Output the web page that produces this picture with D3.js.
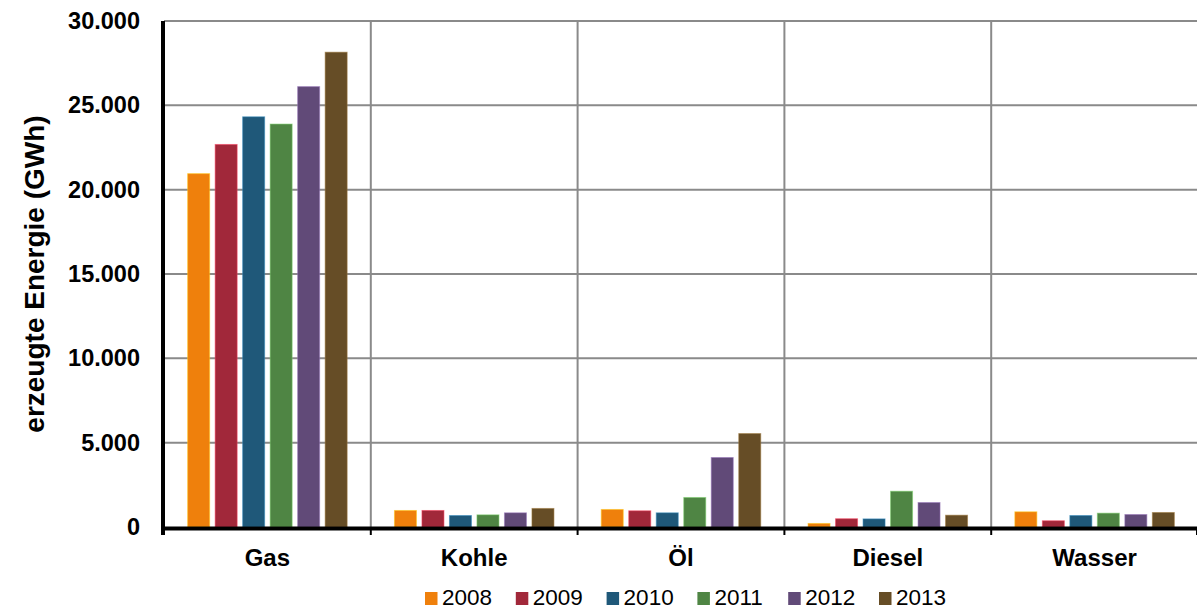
<!DOCTYPE html>
<html>
<head>
<meta charset="utf-8">
<script src="https://cdn.jsdelivr.net/npm/d3@7"></script>
<style>
  html, body { margin: 0; padding: 0; background: #fff; }
  svg { display: block; font-family: "Liberation Sans", Arial, sans-serif; }
</style>
</head>
<body>
<svg id="chart" width="1197" height="610"></svg>
<script>
// Energieträger und Jahre
const categories = ["Gas", "Kohle", "Öl", "Diesel", "Wasser"];
const years = ["2008", "2009", "2010", "2011", "2012", "2013"];

// erzeugte Energie in GWh je Jahr, Reihenfolge wie categories
const values2008 = [20950, 980, 1040, 210, 900];
const values2009 = [22680, 980, 960, 490, 370];
const values2010 = [24320, 680, 840, 480, 680];
const values2011 = [23890, 720, 1750, 2120, 820];
const values2012 = [26110, 840, 4120, 1450, 740];
const values2013 = [28150, 1100, 5540, 700, 860];

const seriesValues = [values2008, values2009, values2010, values2011, values2012, values2013];
const seriesColors = ["#EF800C", "#A1283A", "#1F5879", "#4F8544", "#614A78", "#664D26"];

const yTicks = [0, 5000, 10000, 15000, 20000, 25000, 30000];
const yLabel = "erzeugte Energie (GWh)";

const de = d3.formatLocale({ decimal: ",", thousands: ".", grouping: [3], currency: ["", " €"] });
const fmt = de.format(",d");

const svg = d3.select("#chart");
const plotLeft = 164, plotRight = 1198, plotTop = 21, plotBottom = 527;

const x0 = d3.scaleBand().domain(categories).range([plotLeft, plotRight]).paddingInner(0).paddingOuter(0);
const x1 = d3.scaleBand().domain(years).range([0, x0.bandwidth()]).paddingInner(0.2).paddingOuter(0.86);
const y = d3.scaleLinear().domain([0, 30000]).range([plotBottom, plotTop]);

const boundaries = categories.slice(1).map(c => x0(c)).concat([plotRight]);

// horizontale Gitterlinien
svg.append("g")
  .selectAll("line")
  .data(yTicks.filter(d => d > 0))
  .join("line")
  .attr("x1", plotLeft).attr("x2", plotRight)
  .attr("y1", d => y(d)).attr("y2", d => y(d))
  .attr("stroke", "#8a8a8a").attr("stroke-width", 2);

// vertikale Gitterlinien zwischen den Kategorien
svg.append("g")
  .selectAll("line")
  .data(boundaries)
  .join("line")
  .attr("x1", d => d).attr("x2", d => d)
  .attr("y1", plotTop).attr("y2", plotBottom)
  .attr("stroke", "#8a8a8a").attr("stroke-width", 2);

// Balken
const rows = [];
categories.forEach((c, ci) => {
  years.forEach((yr, yi) => rows.push({ cat: c, year: yr, value: seriesValues[yi][ci], color: seriesColors[yi] }));
});

svg.append("g")
  .selectAll("rect")
  .data(rows)
  .join("rect")
  .attr("x", d => x0(d.cat) + x1(d.year))
  .attr("y", d => y(d.value))
  .attr("width", x1.bandwidth())
  .attr("height", d => y(0) - y(d.value))
  .attr("fill", d => d.color)
  .attr("stroke", d => d3.color(d.color).brighter(1.2).formatHex())
  .attr("stroke-opacity", 0.55)
  .attr("stroke-width", 1);

// y-Achse
const yAxis = svg.append("g")
  .attr("transform", `translate(${plotLeft - 1},0)`)
  .call(d3.axisLeft(y).tickValues(yTicks).tickFormat(fmt).tickSize(0).tickPadding(23));
yAxis.select(".domain").remove();
yAxis.selectAll("text")
  .attr("font-size", 23.5).attr("font-weight", "bold").attr("fill", "#000")
  .attr("font-family", "'Liberation Sans', Arial, sans-serif");

svg.append("line")
  .attr("x1", plotLeft - 1).attr("x2", plotLeft - 1)
  .attr("y1", plotTop).attr("y2", plotBottom + 8)
  .attr("stroke", "#000").attr("stroke-width", 4);

// x-Achse
svg.append("line")
  .attr("x1", plotLeft - 3).attr("x2", plotRight)
  .attr("y1", plotBottom + 1.5).attr("y2", plotBottom + 1.5)
  .attr("stroke", "#000").attr("stroke-width", 4);

svg.append("g")
  .selectAll("line")
  .data(boundaries)
  .join("line")
  .attr("x1", d => Math.min(d, plotRight - 1)).attr("x2", d => Math.min(d, plotRight - 1))
  .attr("y1", plotBottom).attr("y2", plotBottom + 8)
  .attr("stroke", "#000").attr("stroke-width", 2);

svg.append("g")
  .selectAll("text")
  .data(categories)
  .join("text")
  .attr("x", d => x0(d) + x0.bandwidth() / 2)
  .attr("y", 566)
  .attr("text-anchor", "middle")
  .attr("font-size", 24).attr("font-weight", "bold")
  .text(d => d);

// Achsentitel
svg.append("text")
  .attr("transform", `translate(44,274) rotate(-90)`)
  .attr("text-anchor", "middle")
  .attr("font-size", 28).attr("font-weight", "bold")
  .text(yLabel);

// Legende
const legend = svg.append("g")
  .selectAll("g")
  .data(years)
  .join("g")
  .attr("transform", (d, i) => `translate(${425 + i * 90.8},0)`);
legend.append("rect")
  .attr("x", 0).attr("y", 592)
  .attr("width", 12.5).attr("height", 13)
  .attr("fill", (d, i) => seriesColors[i]);
legend.append("text")
  .attr("x", 17).attr("y", 605)
  .attr("font-size", 22.5)
  .text(d => d);
</script>
</body>
</html>
